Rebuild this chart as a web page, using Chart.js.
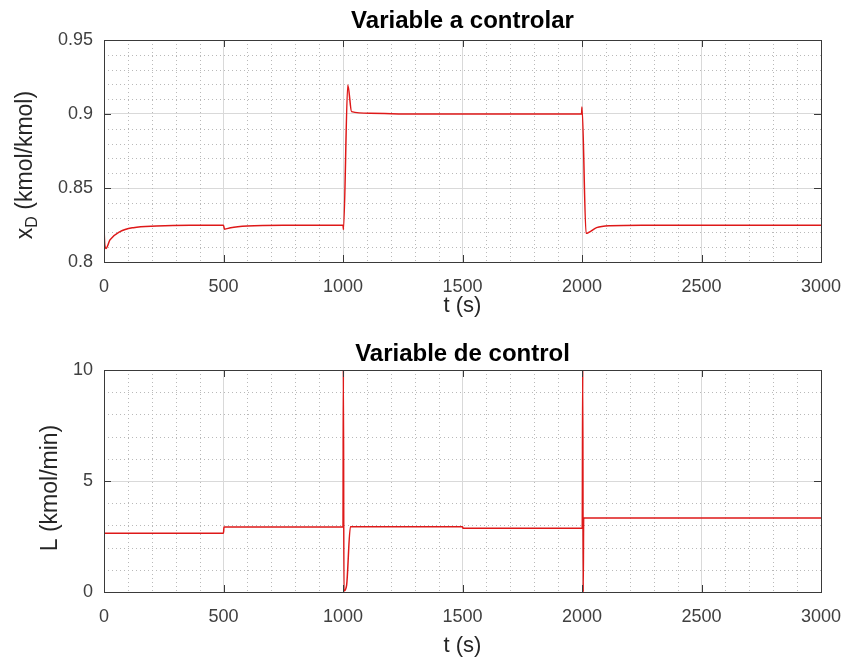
<!doctype html>
<html lang="es">
<head>
<meta charset="utf-8">
<title>Variable a controlar / Variable de control</title>
<style>
  * { margin: 0; padding: 0; }
  body { background: #fff; width: 850px; height: 664px; overflow: hidden; }
  .plot { position: absolute; left: 0; width: 850px; height: 332px; }
  #top { top: 0; }
  #bottom { top: 332px; }
</style>
</head>
<body>
<canvas id="top" class="plot" width="850" height="332"></canvas>
<canvas id="bottom" class="plot" width="850" height="332"></canvas>
<script src="https://cdn.jsdelivr.net/npm/chart.js/dist/chart.umd.min.js"></script>
<script>
// values
const tTop = [0, 3, 8, 25, 67, 123, 220, 360, 500, 504, 530, 600, 750, 1000, 1002, 1020, 1036, 1113, 1300, 1998,
  2000, 2017, 2061, 2117, 2250, 3000];
const xD = [0.8235, 0.812, 0.8092, 0.8149, 0.8205, 0.8232, 0.8243, 0.8248, 0.8248, 0.8222, 0.8232, 0.8243, 0.8248, 0.8248, 0.822, 0.9196, 0.9016, 0.9005, 0.9, 0.9,
  0.9047, 0.8194, 0.8232, 0.8245, 0.8249, 0.8249];

const tBot = [0, 1, 500, 502, 1000, 1001.5, 1004, 1015, 1031, 1500, 1502, 2001, 2003, 2005, 2007, 3000];
const L = [0, 2.65, 2.65, 2.93, 2.93, 10, 0.05, 0.3, 2.94, 2.94, 2.87, 2.87, 10, 0, 3.33, 3.33];

const xTicks = [0, 500, 1000, 1500, 2000, 2500, 3000];
const yTopTicks = [0.8, 0.85, 0.9, 0.95];
const yBotTicks = [0, 5, 10];

const FONT = "'Liberation Sans', Arial, Helvetica, sans-serif";
const isMajor = (list, v) => list.some(t => Math.abs(t - v) < 1e-6);

// dotted minor grid (Chart.js v4 grid lines cannot be dashed per tick)
const minorGrid = {
  id: 'minorGrid',
  beforeDatasetsDraw(chart, args, opts) {
    const {ctx, chartArea: a, scales} = chart;
    ctx.save();
    ctx.strokeStyle = '#b9b9b9';
    ctx.lineWidth = 1;
    ctx.setLineDash([1, 3]);
    ctx.beginPath();
    scales.x.ticks.forEach(t => {
      if (isMajor(xTicks, t.value)) return;
      const px = Math.round(scales.x.getPixelForValue(t.value)) + 0.5;
      ctx.moveTo(px, a.top); ctx.lineTo(px, a.bottom);
    });
    scales.y.ticks.forEach(t => {
      if (isMajor(opts.yTicks, t.value)) return;
      const py = Math.round(scales.y.getPixelForValue(t.value)) + 0.5;
      ctx.moveTo(a.left, py); ctx.lineTo(a.right, py);
    });
    ctx.stroke();
    ctx.restore();
  }
};

// box around the axes, inner tick marks and a y label that can hold a subscript
const boxPlugin = {
  id: 'box',
  afterDraw(chart, args, opts) {
    const {ctx, chartArea: a, scales} = chart;
    ctx.save();
    ctx.strokeStyle = '#3a3a3a';
    ctx.lineWidth = 1;
    ctx.strokeRect(a.left + 0.5, a.top + 0.5, a.right - a.left, a.bottom - a.top);
    ctx.beginPath();
    xTicks.forEach(v => {
      const px = Math.round(scales.x.getPixelForValue(v)) + 0.5;
      ctx.moveTo(px, a.bottom); ctx.lineTo(px, a.bottom - 7);
      ctx.moveTo(px, a.top); ctx.lineTo(px, a.top + 7);
    });
    opts.yTicks.forEach(v => {
      const py = Math.round(scales.y.getPixelForValue(v)) + 0.5;
      ctx.moveTo(a.left, py); ctx.lineTo(a.left + 7, py);
      ctx.moveTo(a.right, py); ctx.lineTo(a.right - 7, py);
    });
    ctx.stroke();

    // y axis label
    ctx.translate(opts.labelX, opts.labelY);
    ctx.rotate(-Math.PI / 2);
    ctx.fillStyle = '#262626';
    ctx.textBaseline = 'middle';
    ctx.textAlign = 'left';
    const fontOf = p => (p.sub ? '16px ' : '23px ') + FONT;
    let total = 0;
    opts.label.forEach(p => { ctx.font = fontOf(p); total += ctx.measureText(p.t).width; });
    let x = -total / 2;
    opts.label.forEach(p => {
      ctx.font = fontOf(p);
      ctx.fillText(p.t, x, p.sub ? 7 : 0);
      x += ctx.measureText(p.t).width;
    });
    ctx.restore();
  }
};

function makeChart(id, cfg) {
  return new Chart(document.getElementById(id), {
    type: 'line',
    data: {
      datasets: [{
        data: cfg.t.map((t, i) => ({x: t, y: cfg.y[i]})),
        borderColor: 'rgb(222, 24, 24)',
        borderWidth: 1.5,
        pointRadius: 0,
        cubicInterpolationMode: 'monotone'
      }]
    },
    plugins: [minorGrid, boxPlugin],
    options: {
      responsive: false,
      animation: false,
      layout: {padding: {left: 0, right: 29, top: 0, bottom: 0}},
      plugins: {
        legend: {display: false},
        tooltip: {enabled: false},
        title: {
          display: true,
          fullSize: false,
          text: cfg.title,
          color: '#000',
          font: {family: FONT, size: 24, weight: 'bold'},
          padding: cfg.titlePad
        },
        minorGrid: {yTicks: cfg.yTicks},
        box: {yTicks: cfg.yTicks, label: cfg.label, labelX: cfg.labelX, labelY: cfg.labelY}
      },
      scales: {
        x: {
          type: 'linear',
          min: 0,
          max: 3000,
          afterFit: s => {
            s.height = cfg.xHeight;
            s.paddingLeft = 0;
            s.paddingRight = 0;
          },
          ticks: {
            stepSize: 100,
            autoSkip: false,
            maxRotation: 0,
            padding: 14,
            color: '#404040',
            font: {family: FONT, size: 18},
            callback: v => isMajor(xTicks, v) ? String(v) : ''
          },
          grid: {
            drawTicks: false,
            color: c => c.tick && isMajor(xTicks, c.tick.value) ? '#d9d9d9' : 'rgba(0,0,0,0)'
          },
          border: {display: false},
          title: {
            display: true,
            text: 't (s)',
            color: '#262626',
            font: {family: FONT, size: 22},
            padding: {top: 0, bottom: cfg.xTitlePad}
          }
        },
        y: {
          min: cfg.yMin,
          max: cfg.yMax,
          afterFit: s => { s.width = 104; },
          ticks: {
            stepSize: cfg.yStep,
            autoSkip: false,
            padding: 11,
            color: '#404040',
            font: {family: FONT, size: 18},
            callback: v => {
              const t = cfg.yTicks.find(k => Math.abs(k - v) < 1e-6);
              return t === undefined ? '' : String(t);
            }
          },
          grid: {
            drawTicks: false,
            color: c => c.tick && isMajor(cfg.yTicks, c.tick.value) ? '#d9d9d9' : 'rgba(0,0,0,0)'
          },
          border: {display: false}
        }
      }
    }
  });
}

makeChart('top', {
  t: tTop, y: xD,
  title: 'Variable a controlar',
  titlePad: {top: 7, bottom: 4.2},
  xHeight: 70, xTitlePad: 13,
  yMin: 0.8, yMax: 0.95, yStep: 0.01, yTicks: yTopTicks,
  label: [{t: 'x'}, {t: 'D', sub: true}, {t: ' (kmol/kmol)'}],
  labelX: 26, labelY: 165
});

makeChart('bottom', {
  t: tBot, y: L,
  title: 'Variable de control',
  titlePad: {top: 8, bottom: 1.2},
  xHeight: 72, xTitlePad: 5,
  yMin: 0, yMax: 10, yStep: 1, yTicks: yBotTicks,
  label: [{t: 'L (kmol/min)'}],
  labelX: 51, labelY: 156
});
</script>
</body>
</html>
